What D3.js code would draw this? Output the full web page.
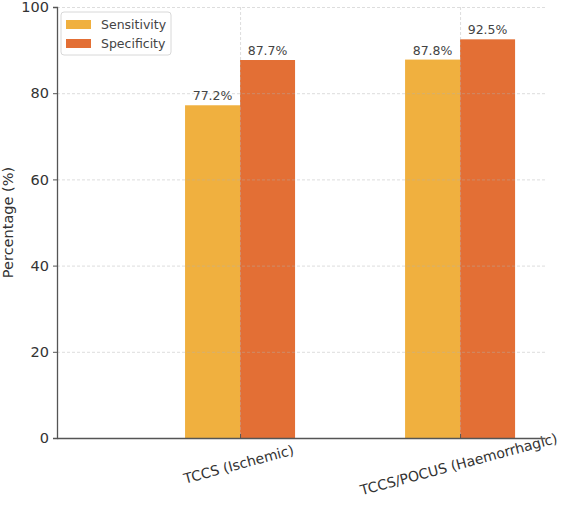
<!DOCTYPE html>
<html lang="en">
  <head>
    <meta charset="utf-8" />
    <title>Sensitivity and specificity</title>
    <script src="https://d3js.org/d3.v7.min.js"></script>
    <style type="text/css">
      body { margin: 0; background: #fff; }
      text { font-family: "DejaVu Sans", sans-serif; }
    </style>
  </head>
  <body>
    <script type="text/javascript">
      const categories = ["TCCS (Ischemic)", "TCCS/POCUS (Haemorrhagic)"];
      const seriesNames = ["Sensitivity", "Specificity"];
      const sensitivity = [77.2, 87.8];
      const specificity = [87.7, 92.5];
      const yTicks = [0, 20, 40, 60, 80, 100];

      const colors = ["#f0b03f", "#e36f35"];
      const seriesValues = [sensitivity, specificity];

      const w = 566;
      const h = 511;
      const plotLeft = 57, plotRight = 545, plotTop = 7, plotBottom = 438;
      const barWidth = 0.25;

      // category index -> pixel (axis limits as in the original plot)
      const xScale = d3.scaleLinear()
        .domain([-0.832, 1.386])
        .range([plotLeft, plotRight]);

      const yScale = d3.scaleLinear()
        .domain([0, 100])
        .range([plotBottom, plotTop]);

      const svg = d3.select("body")
        .append("svg")
        .attr("width", w)
        .attr("height", h);

      // bars
      seriesValues.forEach(function (vals, s) {
        svg.append("g")
          .selectAll("rect")
          .data(vals)
          .enter()
          .append("rect")
          .attr("x", function (d, i) { return xScale(i + (s - 1) * barWidth); })
          .attr("y", function (d) { return yScale(d); })
          .attr("width", xScale(barWidth) - xScale(0))
          .attr("height", function (d) { return yScale(0) - yScale(d); })
          .attr("fill", colors[s]);
      });

      // grid (drawn above bars, faint)
      const grid = svg.append("g")
        .attr("stroke", "#b0b0b0")
        .attr("stroke-opacity", 0.55)
        .attr("stroke-dasharray", "3,2")
        .attr("stroke-width", 0.8);
      grid.selectAll("line.h")
        .data(yTicks.slice(1))
        .enter()
        .append("line")
        .attr("x1", plotLeft).attr("x2", plotRight)
        .attr("y1", function (d) { return yScale(d) + 0.5; })
        .attr("y2", function (d) { return yScale(d) + 0.5; });
      grid.selectAll("line.v")
        .data(categories)
        .enter()
        .append("line")
        .attr("x1", function (d, i) { return xScale(i) + 0.5; })
        .attr("x2", function (d, i) { return xScale(i) + 0.5; })
        .attr("y1", plotTop).attr("y2", plotBottom);

      // value labels
      seriesValues.forEach(function (vals, s) {
        svg.append("g")
          .selectAll("text")
          .data(vals)
          .enter()
          .append("text")
          .attr("x", function (d, i) { return xScale(i + (s - 0.5) * barWidth); })
          .attr("y", function (d) { return yScale(d) - 5; })
          .attr("text-anchor", "middle")
          .attr("font-size", 12.5)
          .attr("fill", "#444")
          .text(function (d) { return d.toFixed(1) + "%"; });
      });

      // y axis
      const yAxis = svg.append("g")
        .attr("transform", "translate(" + plotLeft + ",0)")
        .call(d3.axisLeft(yScale).tickValues(yTicks).tickSize(4).tickPadding(4));
      yAxis.select(".domain").attr("stroke", "#555").attr("stroke-width", 1.3);
      yAxis.selectAll(".tick line").attr("stroke", "#555");
      yAxis.selectAll(".tick text")
        .attr("font-size", 14.5)
        .attr("fill", "#333")
        .attr("font-family", "DejaVu Sans, sans-serif");

      // x axis
      const xAxis = svg.append("g")
        .attr("transform", "translate(0," + plotBottom + ")")
        .call(d3.axisBottom(xScale)
          .tickValues([0, 1])
          .tickSize(-4)
          .tickSizeOuter(0)
          .tickFormat(""));
      xAxis.select(".domain").attr("stroke", "#555").attr("stroke-width", 1.3);
      xAxis.selectAll(".tick line").attr("stroke", "#555");

      svg.append("g")
        .selectAll("text")
        .data(categories)
        .enter()
        .append("text")
        .attr("transform", function (d, i) {
          return "translate(" + xScale(i) + "," + (plotBottom + 31) + ") rotate(-15)";
        })
        .attr("text-anchor", "middle")
        .attr("font-size", 14)
        .attr("fill", "#333")
        .text(function (d) { return d; });

      // y label
      svg.append("text")
        .attr("transform", "translate(13," + ((plotTop + plotBottom) / 2) + ") rotate(-90)")
        .attr("text-anchor", "middle")
        .attr("font-size", 14.5)
        .attr("fill", "#333")
        .text("Percentage (%)");

      // legend
      const legend = svg.append("g").attr("transform", "translate(61,12)");
      legend.append("rect")
        .attr("width", 110)
        .attr("height", 43)
        .attr("rx", 3)
        .attr("fill", "#fff")
        .attr("fill-opacity", 0.8)
        .attr("stroke", "#d8d8d8");
      seriesNames.forEach(function (name, s) {
        legend.append("rect")
          .attr("x", 5)
          .attr("y", 8 + s * 19)
          .attr("width", 25)
          .attr("height", 9)
          .attr("fill", colors[s]);
        legend.append("text")
          .attr("x", 40)
          .attr("y", 17 + s * 19)
          .attr("font-size", 12.5)
          .attr("fill", "#444")
          .text(name);
      });
    </script>
  </body>
</html>
